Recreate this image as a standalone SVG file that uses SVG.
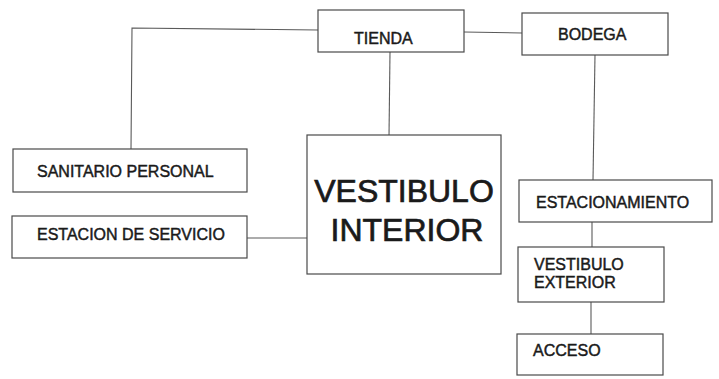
<svg xmlns="http://www.w3.org/2000/svg" width="719" height="379" viewBox="0 0 719 379">
<style>
.box{fill:#fff;stroke:#4a4a4a;stroke-width:1.2}
.lbl{font-family:"Liberation Sans",Arial,sans-serif;font-size:16px;fill:#1a1a1a;stroke:#1a1a1a;stroke-width:0.45}
.big{font-family:"Liberation Sans",Arial,sans-serif;font-size:32px;fill:#1a1a1a;stroke:#1a1a1a;stroke-width:0.7;text-anchor:middle}
.con{fill:none;stroke:#5a5a5a;stroke-width:1.1}
</style>
<rect width="719" height="379" fill="#fff"/>
<g id="connectors">
<polyline class="con" points="318,30 132,28 131,150"/>
<line class="con" x1="464" y1="32" x2="522" y2="33"/>
<line class="con" x1="390" y1="52" x2="389" y2="136"/>
<line class="con" x1="247" y1="238" x2="307" y2="238"/>
<line class="con" x1="595" y1="55" x2="593" y2="180"/>
<line class="con" x1="592" y1="222" x2="592" y2="247"/>
<line class="con" x1="591" y1="302" x2="591" y2="334"/>
</g>
<g id="tienda">
<rect class="box" x="318" y="10" width="146" height="42"/>
<text class="lbl" x="354" y="44">TIENDA</text>
</g>
<g id="bodega">
<rect class="box" x="522" y="13" width="146" height="42"/>
<text class="lbl" x="558" y="40">BODEGA</text>
</g>
<g id="sanitario">
<rect class="box" x="13" y="149" width="234" height="43"/>
<text class="lbl" x="37" y="177">SANITARIO PERSONAL</text>
</g>
<g id="estacion-servicio">
<rect class="box" x="12" y="216" width="235" height="42"/>
<text class="lbl" x="37" y="240">ESTACION DE SERVICIO</text>
</g>
<g id="vestibulo-interior">
<rect class="box" x="307" y="135" width="194" height="139"/>
<text class="big" x="404" y="202">VESTIBULO</text>
<text class="big" x="407" y="241">INTERIOR</text>
</g>
<g id="estacionamiento">
<rect class="box" x="519" y="180" width="193" height="42"/>
<text class="lbl" x="536" y="208">ESTACIONAMIENTO</text>
</g>
<g id="vestibulo-exterior">
<rect class="box" x="518" y="247" width="146" height="55"/>
<text class="lbl" x="534" y="270">VESTIBULO</text>
<text class="lbl" x="534" y="288">EXTERIOR</text>
</g>
<g id="acceso">
<rect class="box" x="517" y="334" width="146" height="41"/>
<text class="lbl" x="533" y="356">ACCESO</text>
</g>
</svg>
